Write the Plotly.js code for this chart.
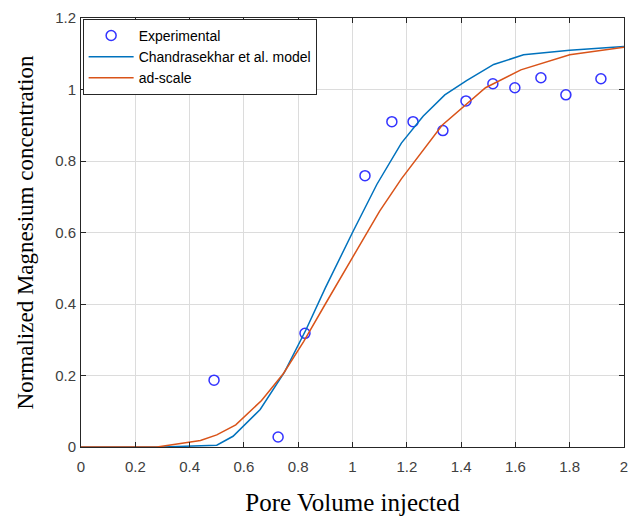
<!DOCTYPE html>
<html>
<head>
<meta charset="utf-8">
<script src="https://cdn.plot.ly/plotly-3.0.1.min.js"></script>
<style>html,body{margin:0;padding:0;background:#fff;}#chart{width:629px;height:516px;}</style>
</head>
<body>
<div id="chart"></div>
<script>
// Experimental data
var expX = [0.49, 0.726, 0.825, 1.046, 1.145, 1.223, 1.333, 1.418, 1.517, 1.598, 1.694, 1.786, 1.915];
var expY = [0.187, 0.028, 0.318, 0.759, 0.91, 0.91, 0.885, 0.968, 1.016, 1.005, 1.033, 0.985, 1.03];
// Chandrasekhar et al. model
var chX = [0, 0.3, 0.5, 0.56, 0.66, 0.75, 0.83, 0.9, 1.0, 1.09, 1.18, 1.26, 1.34, 1.42, 1.52, 1.63, 1.8, 2.0];
var chY = [0, 0, 0.005, 0.03, 0.105, 0.21, 0.33, 0.445, 0.6, 0.735, 0.85, 0.925, 0.985, 1.025, 1.07, 1.097, 1.11, 1.12];
// ad-scale
var adX = [0, 0.28, 0.44, 0.5, 0.57, 0.665, 0.745, 0.82, 0.9, 1.0, 1.1, 1.18, 1.33, 1.49, 1.62, 1.8, 2.0];
var adY = [0, 0, 0.018, 0.034, 0.062, 0.13, 0.205, 0.295, 0.4, 0.53, 0.66, 0.75, 0.9, 1.005, 1.055, 1.097, 1.118];
var xTicks = [0, 0.2, 0.4, 0.6, 0.8, 1, 1.2, 1.4, 1.6, 1.8, 2];
var yTicks = [0, 0.2, 0.4, 0.6, 0.8, 1, 1.2];

var traces = [
  {x: expX, y: expY, type: 'scatter', mode: 'markers', name: 'Experimental',
   marker: {symbol: 'circle-open', size: 10, color: '#3333ff', line: {width: 1.5, color: '#3333ff'}}},
  {x: chX, y: chY, type: 'scatter', mode: 'lines', name: 'Chandrasekhar et al. model',
   line: {color: '#0072BD', width: 1.5}},
  {x: adX, y: adY, type: 'scatter', mode: 'lines', name: 'ad-scale',
   line: {color: '#D95319', width: 1.5}}
];
var axisCommon = {
  showgrid: true, gridcolor: '#dcdcdc', gridwidth: 1,
  showline: true, linecolor: '#262626', linewidth: 1, mirror: 'allticks',
  ticks: 'inside', ticklen: 5, tickcolor: '#262626',
  tickfont: {family: 'Liberation Sans, Arial, sans-serif', size: 15, color: '#404040'},
  zeroline: false
};
var layout = {
  width: 629, height: 516,
  margin: {l: 81, r: 5, t: 18, b: 69},
  paper_bgcolor: '#fff', plot_bgcolor: '#fff',
  showlegend: true,
  legend: {x: 0.003, y: 0.998, xanchor: 'left', yanchor: 'top', bgcolor: '#fff',
    bordercolor: '#262626', borderwidth: 1, itemwidth: 45,
    font: {family: 'Liberation Sans, Arial, sans-serif', size: 14, color: '#000'},
    tracegroupgap: 0},
  xaxis: Object.assign({}, axisCommon, {range: [0, 2], tickvals: xTicks, ticktext: xTicks.map(String),
    ticklabelstandoff: 6,
    title: {text: 'Pore Volume injected', font: {family: 'Liberation Serif, Times New Roman, serif', size: 25, color: '#000'}, standoff: 24}}),
  yaxis: Object.assign({}, axisCommon, {range: [0, 1.2], tickvals: yTicks, ticktext: yTicks.map(String),
    ticklabelstandoff: 1,
    title: {text: 'Normalized Magnesium concentration', font: {family: 'Liberation Serif, Times New Roman, serif', size: 23, color: '#000'}, standoff: 15}})
};
Plotly.newPlot('chart', traces, layout, {displayModeBar: false, staticPlot: true});
</script>
</body>
</html>
